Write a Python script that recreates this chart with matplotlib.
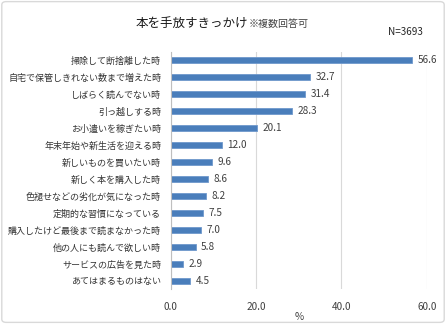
import matplotlib
matplotlib.use("Agg")
import matplotlib.pyplot as plt
from matplotlib.patches import FancyBboxPatch

plt.rcParams['font.family'] = ['Noto Sans CJK JP', 'DejaVu Sans']

categories = ["掃除して断捨離した時", "自宅で保管しきれない数まで増えた時", "しばらく読んでない時",
              "引っ越しする時", "お小遣いを稼ぎたい時", "年末年始や新生活を迎える時",
              "新しいものを買いたい時", "新しく本を購入した時", "色褪せなどの劣化が気になった時",
              "定期的な習慣になっている", "購入したけど最後まで読まなかった時", "他の人にも読んで欲しい時",
              "サービスの広告を見た時", "あてはまるものはない"]
values = [56.6, 32.7, 31.4, 28.3, 20.1, 12.0, 9.6, 8.6, 8.2, 7.5, 7.0, 5.8, 2.9, 4.5]
xticks = [0, 20, 40, 60]

fig = plt.figure(figsize=(4.46, 3.24), dpi=100)
fig.patch.set_facecolor('white')
border = FancyBboxPatch((0.004, 0.005), 0.992, 0.99, boxstyle="round,pad=0,rounding_size=0.01",
                        transform=fig.transFigure, fill=False, edgecolor='#d9d9d9', linewidth=1.0)
fig.patches.append(border)

ax = fig.add_axes([0.383, 0.1065, 0.574, 0.7345])
y = list(range(len(categories)))
ax.barh(y, values, height=0.38, color='#4A7EBB', edgecolor='#6F98CC', linewidth=0.6, zorder=3)
for yi, v in zip(y, values):
    ax.text(v + 1.3, yi, f"{v:.1f}", va='center', ha='left', fontsize=7.2, color='#404040')
ax.set_yticks(y)
ax.set_yticklabels(categories, fontsize=6.5, color='#333333')
ax.set_ylim(len(categories) - 0.5, -0.5)
ax.set_xlim(0, 60)
ax.set_xticks(xticks)
ax.set_xticklabels([f"{t:.1f}" for t in xticks], fontsize=7.2, color='#404040')
ax.tick_params(axis='x', length=0, pad=9)
ax.tick_params(axis='y', length=0, pad=7)
ax.grid(axis='x', color='#d9d9d9', linewidth=0.8, zorder=0)
for s in ['top', 'right', 'bottom']:
    ax.spines[s].set_visible(False)
ax.spines['left'].set_color('#bfbfbf')
ax.spines['left'].set_linewidth(0.8)
ax.spines['left'].set_zorder(4)
ax.set_xlabel("%", fontsize=7.2, color='#404040', labelpad=0)

fig.text(0.557, 0.928, "本を手放すきっかけ", ha='right', va='center', fontsize=9, color='#1a1a1a')
fig.text(0.557, 0.925, "※複数回答可", ha='left', va='center', fontsize=7.2, color='#404040')
fig.text(0.948, 0.901, "N=3693", ha='right', va='center', fontsize=7.2, color='#262626')

fig.savefig("out.png", dpi=100, facecolor='white')
